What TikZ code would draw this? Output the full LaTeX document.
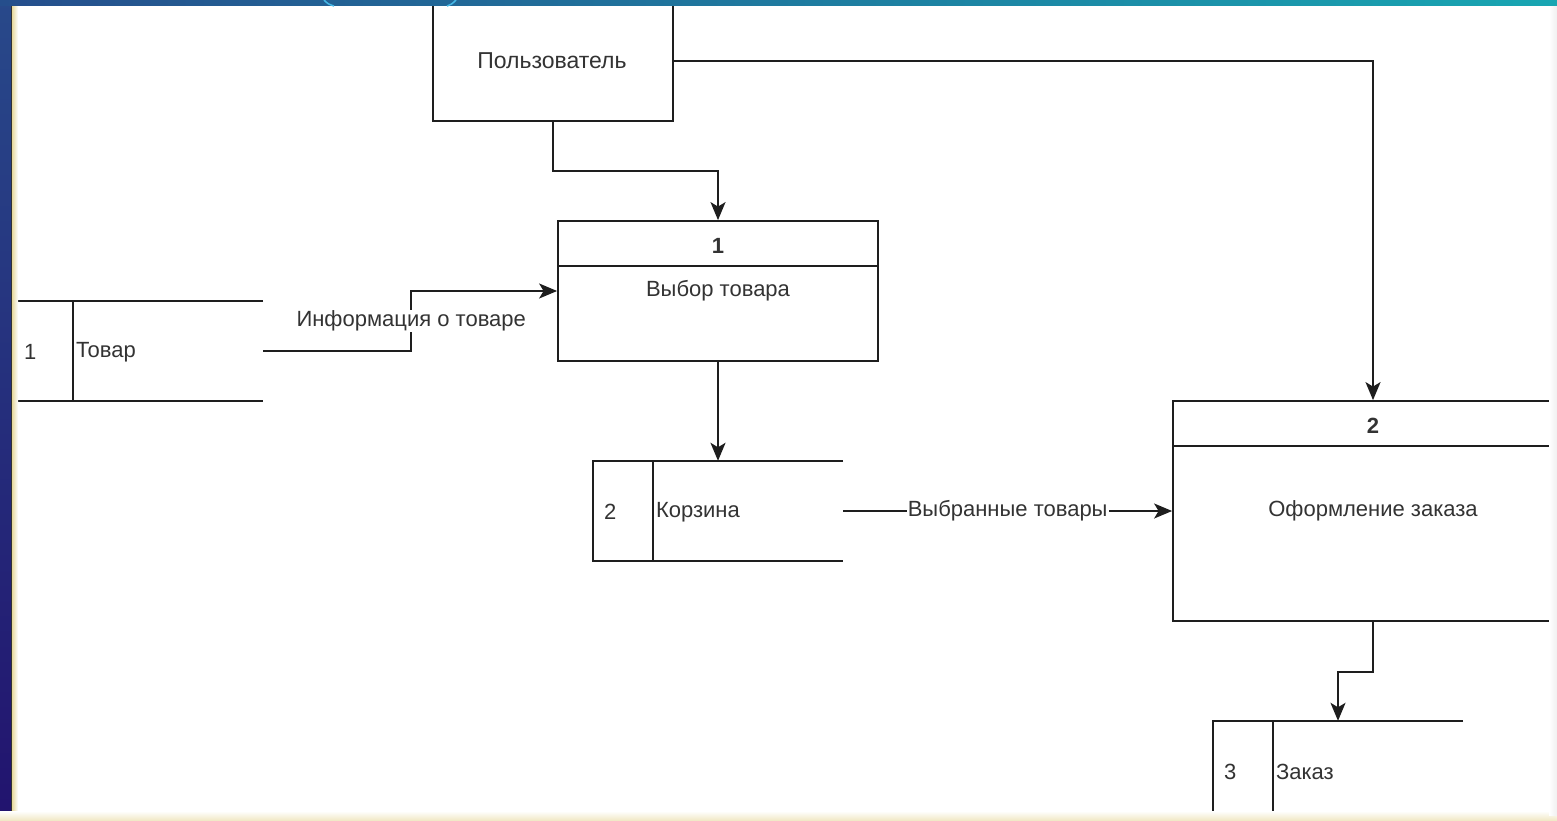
\documentclass[tikz,border=0pt]{standalone}
\usepackage{fontspec}
\setmainfont{Liberation Sans}
\usetikzlibrary{arrows.meta,positioning,calc}
\definecolor{ink}{HTML}{1E1E1E}
\definecolor{txt}{HTML}{333333}
\definecolor{bandA}{HTML}{28498A}
\definecolor{bandB}{HTML}{22136E}
\definecolor{topA}{HTML}{254E8C}
\definecolor{topB}{HTML}{18A6B2}
\definecolor{cream}{HTML}{E9DCA6}
\definecolor{arcblue}{HTML}{45B8E6}
\tikzset{>={Stealth[length=18pt,width=15pt,inset=4.5pt]}, line/.style={line width=1.8pt, draw=ink},
proc/.style={draw=ink, line width=1.8pt, minimum width=320pt, minimum height=140pt, inner sep=0pt},
store/.style={minimum width=250pt, minimum height=100pt, inner sep=0pt},
note/.style={font=\fontsize{22}{26}\selectfont, text=txt, inner sep=0pt},
flownote/.style={note, fill=white, inner sep=1pt}}

\begin{document}
\begin{tikzpicture}[x=1pt,y=-1pt]
\clip (0,0) rectangle (1557,821);
\fill[white] (0,0) rectangle (1557,821);

% external entity
\node[proc, minimum width=240pt, minimum height=120pt] (user) at (553,61) {};
\node[note, font=\fontsize{23}{27}\selectfont] (usertxt) at (552,61) {Пользователь};

% processes
\node[proc] (p1) at (718,291) {};
\draw[line] ($(p1.north west)+(0,46)$) -- ($(p1.north east)+(0,46)$);
\node[note, font=\fontsize{22}{26}\selectfont\bfseries] (p1num) at ($(p1.north)+(0,26)$) {1};
\node[note] (p1txt) at ($(p1.north)+(0,71)$) {Выбор товара};

\node[proc, minimum width=400pt, minimum height=220pt] (p2) at (1373,511) {};
\draw[line] ($(p2.north west)+(0,46)$) -- ($(p2.north east)+(0,46)$);
\node[note, font=\fontsize{22}{26}\selectfont\bfseries] (p2num) at ($(p2.north)+(0,26)$) {2};
\node[note] (p2txt) at ($(p2.north)+(0,111)$) {Оформление заказа};

% data stores
\foreach \n/\pos/\num/\name in {st1/{138,351}/1/Товар, st2/{718,511}/2/Корзина, st3/{1338,771}/3/Заказ} {
  \node[store] (\n) at (\pos) {};
  \draw[line] (\n.north east) -- (\n.north west) -- (\n.south west) -- (\n.south east);
  \draw[line] ($(\n.north west)+(60,0)$) -- ($(\n.south west)+(60,0)$);
  \node[note, anchor=west] (\n num) at ($(\n.west)+(11,1)$) {\num};
  \node[note, anchor=west] (\n txt) at ($(\n.west)+(63,1)$) {\name};
}

% flows
\draw[line,->] (user.south) -- ++(0,49) -| (p1.north);
\draw[line,->] (user.east) -| (p2.north);
\draw[line,->] (st1.east) -- ++(148,0) -- node[flownote] {Информация о товаре} ++(0,-60) -- (p1.west);
\draw[line,->] (p1.south) -- (st2.north);
\draw[line,->] (st2.east) -- node[flownote] {Выбранные товары} (p2.west);
\draw[line,->] (p2.south) -- ++(0,50) -| (st3.north);

% slide frame
\shade[top color=bandA, bottom color=bandB] (0,0) rectangle (11,821);
\fill[black!80] (11,0) rectangle (12.5,821);
\shade[left color=cream, right color=white] (12.5,0) rectangle (18,821);
\shade[top color=white, bottom color=cream!70] (0,811) rectangle (1557,821);
\shade[left color=white, right color=black!6] (1549,6) rectangle (1557,815);
\shade[left color=topA, right color=topB] (0,0) rectangle (1557,6);
\draw[arcblue, line width=1.5pt] (324,0) .. controls (328,4) .. (334,6);
\draw[arcblue, line width=1.5pt] (456,0) .. controls (452,4) .. (447,6);
\end{tikzpicture}
\end{document}
